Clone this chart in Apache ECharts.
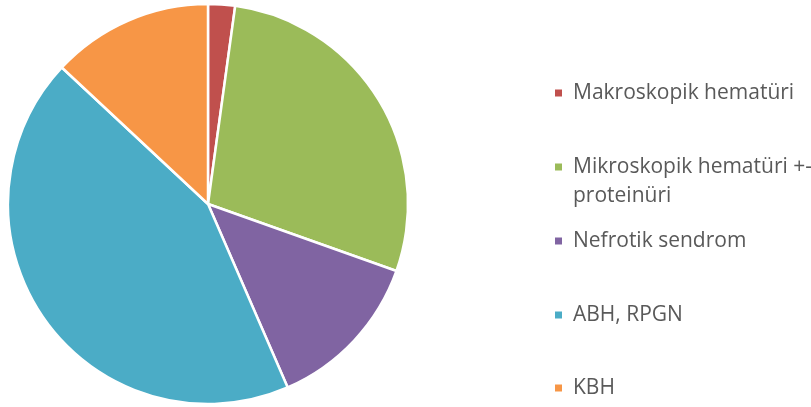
<!DOCTYPE html>
<html><head><meta charset="utf-8">
<script src="https://cdn.jsdelivr.net/npm/echarts@6/dist/echarts.min.js"></script>
<style>html,body{margin:0;padding:0;background:#fff}#c{width:811px;height:407px}</style>
</head><body><div id="c"></div>
<script>
const categories = ['Makroskopik hematüri', 'Mikroskopik hematüri +-\nproteinüri', 'Nefrotik sendrom', 'ABH, RPGN', 'KBH'];
const values = [1, 13, 6, 20, 6];
const colors = ['#C0504D', '#9BBB59', '#8064A2', '#4BACC6', '#F79646'];
const legendTops = [93, 167, 241, 315, 388];

const LH = 29;
const chart = echarts.init(document.getElementById('c'), null, {renderer: 'canvas'});
const legends = categories.map((name, i) => {
  const multi = name.indexOf('\n') >= 0;
  return {
    data: [name],
    left: 553,
    top: legendTops[i] - (multi ? LH * 1.5 : LH / 2),
    padding: 0,
    itemWidth: 9,
    itemHeight: 9,
    itemGap: 0,
    icon: 'rect',
    selectedMode: false,
    formatter: n => (n.indexOf('\n') >= 0 ? ' \n' + n : n),
    textStyle: {
      color: '#595959',
      fontFamily: 'Open Sans',
      fontSize: 21,
      lineHeight: LH,
      padding: [0, 0, 0, 5]
    }
  };
});
chart.setOption({
  animation: false,
  color: colors,
  legend: legends,
  series: [{
    type: 'pie',
    center: [208, 204],
    radius: 200,
    startAngle: 90,
    clockwise: true,
    label: {show: false},
    labelLine: {show: false},
    itemStyle: {borderColor: '#fff', borderWidth: 2.5},
    data: categories.map((n, i) => ({name: n, value: values[i]}))
  }]
});
</script></body></html>
